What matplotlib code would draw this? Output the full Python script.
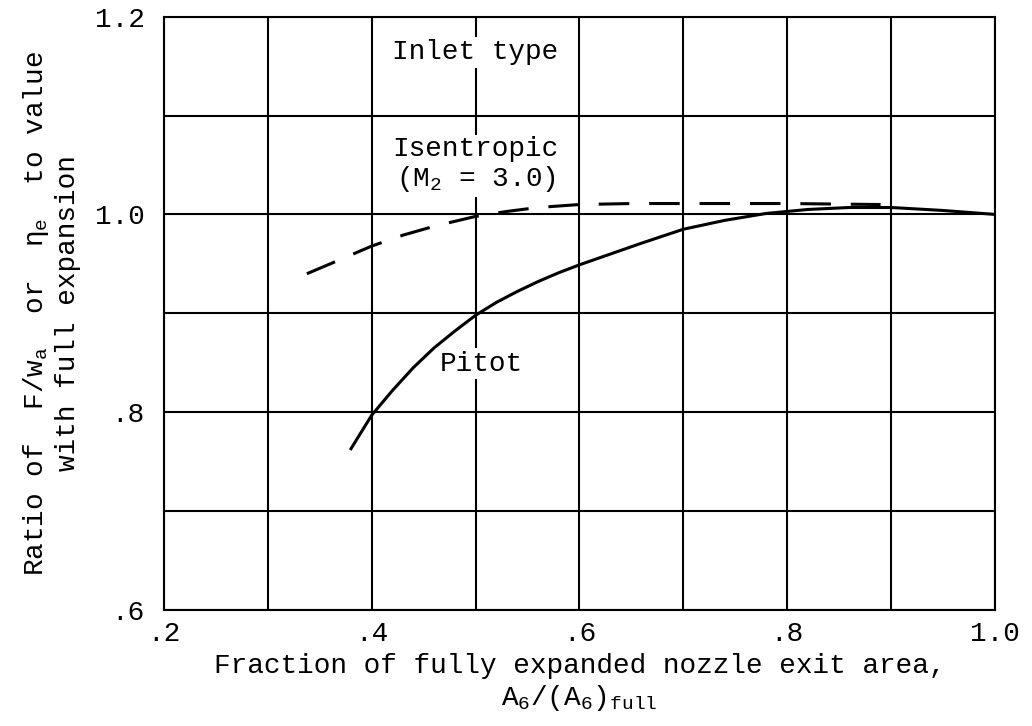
import matplotlib.pyplot as plt
import numpy as np

# 폰트 설정 (타자기 느낌의 고정폭 글꼴)
plt.rcParams['font.family'] = ['Liberation Mono', 'DejaVu Sans Mono']
plt.rcParams['mathtext.fontset'] = 'custom'
plt.rcParams['mathtext.rm'] = 'Liberation Mono'
plt.rcParams['mathtext.it'] = 'Liberation Mono'
plt.rcParams['font.size'] = 20

# Pitot 흡입구 곡선 (실선)
pitot_x = [0.38, 0.39, 0.40, 0.42, 0.44, 0.46, 0.48, 0.50, 0.52, 0.54, 0.56, 0.58,
           0.60, 0.63, 0.66, 0.70, 0.74, 0.78, 0.82, 0.86, 0.90, 0.95, 1.00]
pitot_y = [0.763, 0.780, 0.797, 0.822, 0.845, 0.865, 0.882, 0.898, 0.911, 0.922, 0.932, 0.941,
           0.949, 0.960, 0.971, 0.985, 0.994, 1.001, 1.005, 1.007, 1.007, 1.004, 1.000]

# Isentropic 흡입구 곡선 (점선)
isen_x = [0.3375, 0.36, 0.38, 0.40, 0.43, 0.46, 0.50, 0.53, 0.56, 0.60, 0.65, 0.70, 0.80, 0.89]
isen_y = [0.940, 0.950, 0.959, 0.968, 0.979, 0.988, 0.998, 1.003, 1.007, 1.010, 1.011, 1.011, 1.011, 1.010]

# 축 눈금
xticks = [0.2, 0.4, 0.6, 0.8, 1.0]
xtick_labels = ['.2', '.4', '.6', '.8', '1.0']
yticks = [0.6, 0.8, 1.0, 1.2]
ytick_labels = ['.6', '.8', '1.0', '1.2']

fig = plt.figure(figsize=(10.32, 7.26), dpi=100)
ax = fig.add_axes([0.159, 0.160, 0.805, 0.817])

ax.set_xlim(0.2, 1.0)
ax.set_ylim(0.6, 1.2)

# 격자 (0.1 간격)
ax.set_xticks(xticks)
ax.set_xticklabels(xtick_labels)
ax.set_yticks(yticks)
ax.set_yticklabels(ytick_labels)
ax.set_xticks(np.arange(0.3, 1.0, 0.2), minor=True)
ax.set_yticks(np.arange(0.7, 1.2, 0.2), minor=True)
ax.grid(which='both', color='black', linewidth=1.5)
ax.set_axisbelow(True)

ax.tick_params(which='both', length=0)
ax.tick_params(axis='x', pad=8)
ax.tick_params(axis='y', pad=14)
for s in ax.spines.values():
    s.set_linewidth(1.5)

# 곡선 그리기
ax.plot(pitot_x, pitot_y, color='black', linewidth=2.2, zorder=3)
ax.plot(isen_x, isen_y, color='black', linewidth=2.2,
        linestyle=(0, (10, 6.5)), zorder=3)

# 곡선 이름표 (흰 배경으로 격자선을 끊음)
box = dict(facecolor='white', edgecolor='none', pad=2)
ax.text(0.5, 1.164, 'Inlet type', ha='center', va='center', bbox=box, zorder=4)
ax.text(0.5, 1.05, 'Isentropic\n(M$_2$ = 3.0)', ha='center', va='center',
        bbox=box, zorder=4, linespacing=1.1)
ax.text(0.505, 0.849, 'Pitot', ha='center', va='center', bbox=box, zorder=4)

ax.set_xlabel('Fraction of fully expanded nozzle exit area,\nA$_6$/(A$_6$)$_{full}$',
              labelpad=4)
ax.set_ylabel('Ratio of  F/w$_a$  or  $\\eta_e$  to value\nwith full expansion',
              labelpad=10)

plt.savefig('out.png', dpi=100)
